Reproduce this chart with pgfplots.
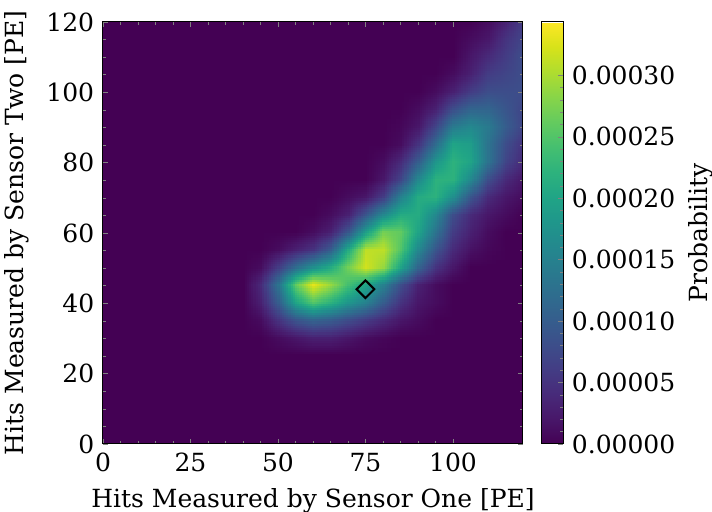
\documentclass[border=0pt]{standalone}
\usepackage{fontspec}
\setmainfont{DejaVu Serif}
\usepackage{pgfplots}
\pgfplotsset{compat=1.18}
\usepgfplotslibrary{patchplots}
\definecolor{vir0}{rgb}{0.267004,0.004874,0.329415}

\begin{document}
\begin{tikzpicture}
% probability grid, values in units of 1e-5 (5 PE spacing)
\begin{axis}[
  name=main,
  width=168pt,height=168.8pt,scale only axis,
  xmin=0,xmax=120,ymin=0,ymax=120,
  xtick={0,25,50,75,100},ytick={0,20,...,120},
  minor x tick num=4,minor y tick num=3,
  tick align=inside,
  major tick length=2pt,minor tick length=1.2pt,
  axis on top,
  axis background/.style={fill=vir0},
  colormap/viridis,
  point meta min=0,point meta max=34.35,
  /pgf/number format/assume math mode=true,
  xlabel={Hits Measured by Sensor One [PE]},
  ylabel={Hits Measured by Sensor Two [PE]},
  colorbar,
  colorbar style={
    width=8.8pt,
    at={(parent axis.north east)},anchor=north west,xshift=-1.3pt,
    ytick={0,5,...,30},
    yticklabels={0.00000,0.00005,0.00010,0.00015,0.00020,0.00025,0.00030},
    minor y tick num=4,
    ytick pos=right,yticklabel pos=right,
    tick align=inside,
    major tick length=2pt,minor tick length=1.2pt,
    ylabel={Probability},
    every axis y label/.style={at={(rel axis cs:1,0.5)},xshift=46.7pt,rotate=90,anchor=north},
  },
]
\addplot[surf,shader=interp,patch type=bilinear,mesh/cols=17,point meta=explicit] table[row sep=\\,x=x,y=y,meta=z] {
x y z\\
40 25 0\\ 45 25 0\\ 50 25 0\\ 55 25 0\\ 60 25 0\\ 65 25 0\\ 70 25 0\\ 75 25 0\\ 80 25 0\\ 85 25 0\\ 90 25 0\\ 95 25 0\\ 100 25 0\\ 105 25 0\\ 110 25 0\\ 115 25 0\\ 120 25 0\\
40 30 0\\ 45 30 0\\ 50 30 1\\ 55 30 2\\ 60 30 3\\ 65 30 3\\ 70 30 2\\ 75 30 1\\ 80 30 0.5\\ 85 30 0\\ 90 30 0\\ 95 30 0\\ 100 30 0\\ 105 30 0\\ 110 30 0\\ 115 30 0\\ 120 30 0\\
40 35 0\\ 45 35 1\\ 50 35 5\\ 55 35 9\\ 60 35 11\\ 65 35 10\\ 70 35 8\\ 75 35 6\\ 80 35 4\\ 85 35 2\\ 90 35 1\\ 95 35 0\\ 100 35 0\\ 105 35 0\\ 110 35 0\\ 115 35 0\\ 120 35 0\\
40 40 0\\ 45 40 3\\ 50 40 10\\ 55 40 20\\ 60 40 25\\ 65 40 22\\ 70 40 18\\ 75 40 15\\ 80 40 10\\ 85 40 5\\ 90 40 2\\ 95 40 1\\ 100 40 0\\ 105 40 0\\ 110 40 0\\ 115 40 0\\ 120 40 0\\
40 45 0\\ 45 45 4\\ 50 45 13\\ 55 45 26\\ 60 45 33\\ 65 45 29\\ 70 45 24\\ 75 45 20\\ 80 45 15\\ 85 45 8\\ 90 45 3\\ 95 45 1\\ 100 45 0\\ 105 45 0\\ 110 45 0\\ 115 45 0\\ 120 45 0\\
40 50 0\\ 45 50 1\\ 50 50 6\\ 55 50 12\\ 60 50 17\\ 65 50 21\\ 70 50 27\\ 75 50 32\\ 80 50 29\\ 85 50 20\\ 90 50 11\\ 95 50 5\\ 100 50 2\\ 105 50 0\\ 110 50 0\\ 115 50 0\\ 120 50 0\\
40 55 0\\ 45 55 0\\ 50 55 1\\ 55 55 3\\ 60 55 5\\ 65 55 10\\ 70 55 21\\ 75 55 31\\ 80 55 31\\ 85 55 25\\ 90 55 16\\ 95 55 9\\ 100 55 4\\ 105 55 1.5\\ 110 55 0.5\\ 115 55 0\\ 120 55 0\\
40 60 0\\ 45 60 0\\ 50 60 0\\ 55 60 0\\ 60 60 1\\ 65 60 3\\ 70 60 9\\ 75 60 19\\ 80 60 27\\ 85 60 26\\ 90 60 20\\ 95 60 13\\ 100 60 6\\ 105 60 3\\ 110 60 1\\ 115 60 0\\ 120 60 0\\
40 65 0\\ 45 65 0\\ 50 65 0\\ 55 65 0\\ 60 65 0\\ 65 65 1\\ 70 65 3\\ 75 65 9\\ 80 65 16\\ 85 65 21\\ 90 65 21\\ 95 65 16\\ 100 65 8\\ 105 65 4\\ 110 65 2\\ 115 65 1\\ 120 65 0\\
40 70 0\\ 45 70 0\\ 50 70 0\\ 55 70 0\\ 60 70 0\\ 65 70 0\\ 70 70 1\\ 75 70 2\\ 80 70 6\\ 85 70 15\\ 90 70 21\\ 95 70 22\\ 100 70 17\\ 105 70 9\\ 110 70 4\\ 115 70 2\\ 120 70 1\\
40 75 0\\ 45 75 0\\ 50 75 0\\ 55 75 0\\ 60 75 0\\ 65 75 0\\ 70 75 0\\ 75 75 0\\ 80 75 2\\ 85 75 7\\ 90 75 16\\ 95 75 22\\ 100 75 22\\ 105 75 16\\ 110 75 8\\ 115 75 4\\ 120 75 2\\
40 80 0\\ 45 80 0\\ 50 80 0\\ 55 80 0\\ 60 80 0\\ 65 80 0\\ 70 80 0\\ 75 80 0\\ 80 80 1\\ 85 80 4\\ 90 80 10\\ 95 80 18\\ 100 80 22\\ 105 80 20\\ 110 80 13\\ 115 80 7\\ 120 80 4\\
40 85 0\\ 45 85 0\\ 50 85 0\\ 55 85 0\\ 60 85 0\\ 65 85 0\\ 70 85 0\\ 75 85 0\\ 80 85 0\\ 85 85 1\\ 90 85 5\\ 95 85 12\\ 100 85 20\\ 105 85 19\\ 110 85 13\\ 115 85 8\\ 120 85 5\\
40 90 0\\ 45 90 0\\ 50 90 0\\ 55 90 0\\ 60 90 0\\ 65 90 0\\ 70 90 0\\ 75 90 0\\ 80 90 0\\ 85 90 0.5\\ 90 90 2\\ 95 90 7\\ 100 90 14\\ 105 90 16\\ 110 90 14\\ 115 90 10\\ 120 90 7\\
40 95 0\\ 45 95 0\\ 50 95 0\\ 55 95 0\\ 60 95 0\\ 65 95 0\\ 70 95 0\\ 75 95 0\\ 80 95 0\\ 85 95 0\\ 90 95 1\\ 95 95 3\\ 100 95 8\\ 105 95 11\\ 110 95 11\\ 115 95 9\\ 120 95 7\\
40 100 0\\ 45 100 0\\ 50 100 0\\ 55 100 0\\ 60 100 0\\ 65 100 0\\ 70 100 0\\ 75 100 0\\ 80 100 0\\ 85 100 0\\ 90 100 0\\ 95 100 1\\ 100 100 3\\ 105 100 6\\ 110 100 8\\ 115 100 8\\ 120 100 8\\
40 105 0\\ 45 105 0\\ 50 105 0\\ 55 105 0\\ 60 105 0\\ 65 105 0\\ 70 105 0\\ 75 105 0\\ 80 105 0\\ 85 105 0\\ 90 105 0\\ 95 105 0\\ 100 105 1\\ 105 105 3\\ 110 105 6\\ 115 105 7\\ 120 105 8\\
40 110 0\\ 45 110 0\\ 50 110 0\\ 55 110 0\\ 60 110 0\\ 65 110 0\\ 70 110 0\\ 75 110 0\\ 80 110 0\\ 85 110 0\\ 90 110 0\\ 95 110 0\\ 100 110 0\\ 105 110 2\\ 110 110 4\\ 115 110 6\\ 120 110 8\\
40 115 0\\ 45 115 0\\ 50 115 0\\ 55 115 0\\ 60 115 0\\ 65 115 0\\ 70 115 0\\ 75 115 0\\ 80 115 0\\ 85 115 0\\ 90 115 0\\ 95 115 0\\ 100 115 0\\ 105 115 1\\ 110 115 2\\ 115 115 5\\ 120 115 7\\
40 120 0\\ 45 120 0\\ 50 120 0\\ 55 120 0\\ 60 120 0\\ 65 120 0\\ 70 120 0\\ 75 120 0\\ 80 120 0\\ 85 120 0\\ 90 120 0\\ 95 120 0\\ 100 120 0\\ 105 120 0\\ 110 120 1\\ 115 120 3\\ 120 120 6\\
};
\addplot[only marks,mark=square,mark size=2.5pt,
  mark options={rotate=45,line width=0.8pt,draw=black,fill=none}] coordinates {(75,44)};
\end{axis}
\pgfresetboundingbox
\path[use as bounding box] (main.south west) ++(-41.2pt,-27.2pt) rectangle ++(284.8pt,204.8pt);
\end{tikzpicture}
\end{document}
